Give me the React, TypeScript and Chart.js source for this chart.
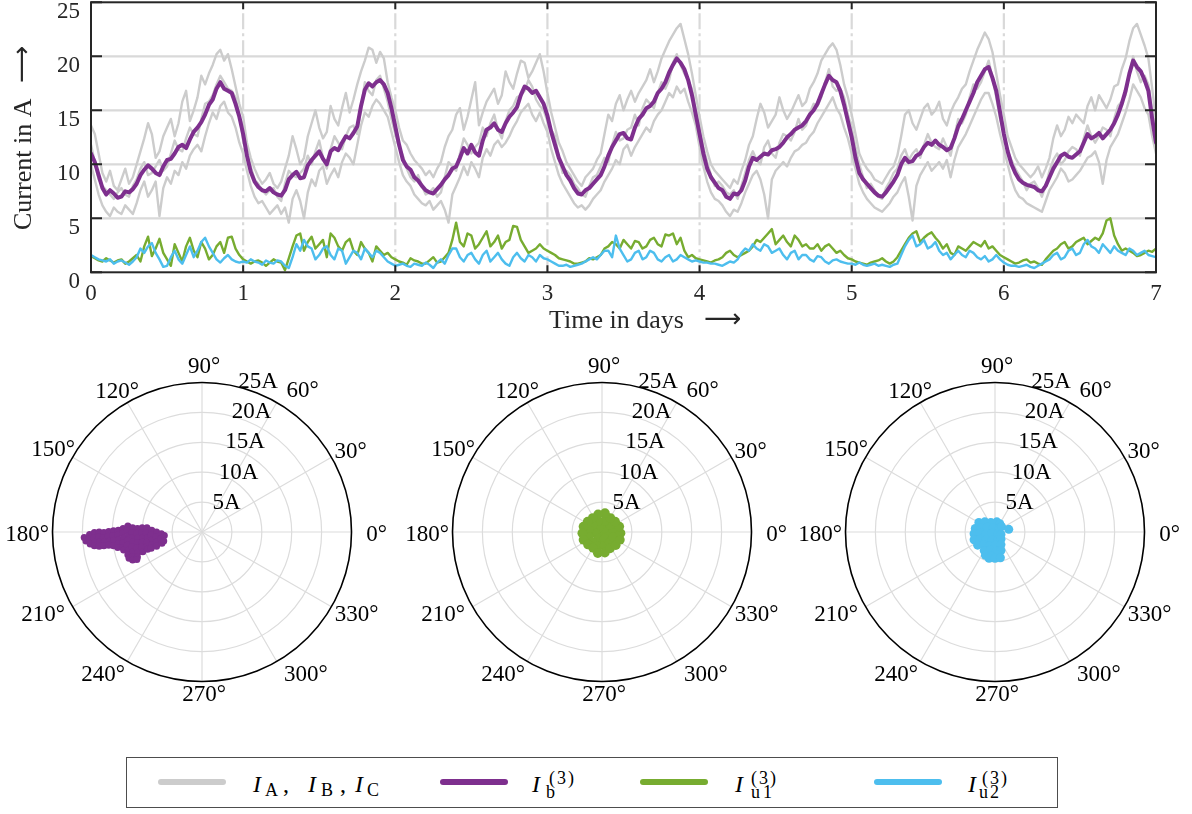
import React, { useEffect, useRef } from "react";
import { Chart, registerables } from "chart.js";

Chart.register(...registerables);

// ---------- style constants ----------
const FONT = '"Liberation Serif", "Times New Roman", Times, serif';
const INK = "#262626";
const GRAY = "#cccccc";
const PURPLE = "#7e2f8e";
const GREEN = "#77ac30";
const BLUE = "#4dbeee";
const GRID = "#d9d9d9";

// ---------- axis / tick data ----------
const STEP_DAYS = 0.025; // sampling step of the series below (days)
const dayTicks = [0, 1, 2, 3, 4, 5, 6, 7];
const currentTicks = [0, 5, 10, 15, 20, 25];
const xAxisTitle = "Time in days";
const yAxisTitle = "Current in A";
const ARROW = "\u27F6";

const polarRingValues = [5, 10, 15, 20, 25];
const polarRingLabels = ["5A", "10A", "15A", "20A", "25A"];
const polarAngles = [0, 30, 60, 90, 120, 150, 180, 210, 240, 270, 300, 330];

// ---------- time series (A), one value per 0.025 day, t = 0 … 7 (one row per day) ----------
const iA = [
  13.6, 12.8, 11.0, 9.2, 8.4, 9.4, 8.0, 7.6, 8.6, 9.6, 8.2, 8.8, 10.0, 11.2, 12.4, 13.8, 12.8, 10.6, 11.2, 12.6, 13.4, 14.2, 12.6, 13.8, 15.8, 16.8, 14.0, 15.0, 16.2, 18.2, 17.4, 18.4, 19.2, 20.2, 20.6, 19.6, 20.2, 18.8, 17.2, 15.6,
  14.4, 12.0, 10.6, 9.6, 8.8, 8.2, 8.6, 9.2, 8.2, 7.8, 8.4, 9.6, 10.8, 12.6, 11.4, 10.0, 10.6, 12.6, 13.8, 15.0, 13.4, 12.4, 13.0, 15.4, 14.2, 13.6, 15.2, 16.6, 14.8, 16.0, 17.4, 18.6, 19.6, 20.8, 20.6, 19.4, 20.4, 19.8, 17.6, 16.2,
  15.0, 13.4, 12.2, 11.8, 11.0, 10.4, 10.0, 9.6, 9.0, 9.4, 8.8, 9.6, 10.2, 11.6, 12.6, 13.2, 14.6, 15.2, 13.2, 14.4, 16.0, 17.6, 13.6, 14.8, 15.8, 16.4, 17.0, 15.6, 16.4, 18.6, 17.6, 17.0, 18.4, 19.6, 19.4, 18.0, 18.6, 19.4, 20.2, 18.6,
  16.6, 14.8, 13.4, 12.0, 11.2, 10.2, 9.6, 9.0, 8.4, 8.0, 8.8, 9.2, 9.6, 10.4, 11.0, 12.8, 14.6, 14.0, 15.6, 16.4, 15.0, 16.0, 16.8, 15.8, 16.6, 17.2, 17.8, 18.8, 17.6, 18.6, 19.8, 20.6, 21.4, 22.0, 22.6, 23.0, 21.6, 20.2, 18.4, 16.4,
  14.4, 12.6, 11.2, 10.0, 9.4, 9.0, 8.6, 8.2, 7.8, 8.6, 8.2, 9.4, 10.4, 11.8, 12.6, 14.2, 15.6, 14.8, 13.4, 14.0, 14.6, 16.2, 15.0, 14.2, 14.8, 15.6, 16.4, 15.4, 15.8, 17.0, 17.6, 18.4, 19.6, 20.2, 20.8, 21.2, 20.6, 19.2, 17.4, 16.2,
  14.6, 12.8, 11.0, 10.2, 9.6, 9.2, 8.6, 8.4, 8.2, 8.8, 9.4, 9.8, 10.8, 12.6, 14.6, 15.0, 13.8, 13.2, 14.2, 15.2, 15.6, 14.6, 15.0, 15.8, 14.2, 13.6, 14.8, 15.6, 16.2, 17.0, 17.4, 18.6, 19.6, 20.6, 21.4, 22.2, 21.6, 20.4, 18.4, 16.4,
  14.6, 12.6, 11.6, 10.6, 10.0, 9.6, 9.2, 8.8, 9.2, 9.8, 8.8, 9.6, 10.6, 12.4, 13.6, 12.6, 13.2, 14.4, 13.8, 14.6, 14.2, 13.8, 15.4, 16.2, 15.0, 16.4, 15.8, 15.2, 16.0, 17.2, 17.4, 18.8, 19.8, 21.4, 22.6, 23.0, 22.0, 21.0, 19.8, 17.0,
  14.0,
];
const iB = [
  11.8, 10.2, 8.6, 8.0, 7.6, 7.2, 6.8, 7.4, 7.8, 7.2, 7.0, 8.0, 8.6, 9.6, 10.2, 9.0, 9.2, 9.8, 10.4, 9.4, 9.8, 11.0, 12.2, 11.4, 11.2, 12.4, 13.4, 12.8, 12.6, 14.2, 15.6, 15.8, 16.4, 17.4, 18.2, 17.6, 17.0, 16.8, 16.2, 14.6,
  12.2, 11.0, 9.8, 8.6, 8.2, 7.6, 7.2, 7.6, 7.8, 7.0, 6.6, 8.2, 9.4, 9.0, 8.8, 9.2, 9.6, 10.8, 10.0, 11.2, 12.2, 10.6, 9.6, 11.4, 12.6, 12.0, 11.4, 12.6, 13.4, 13.6, 12.8, 15.2, 17.6, 16.8, 16.4, 17.8, 18.2, 17.0, 15.8, 14.2,
  12.8, 11.6, 10.8, 9.6, 8.8, 8.4, 9.0, 8.0, 7.2, 7.4, 7.8, 7.0, 7.4, 8.8, 10.2, 9.8, 9.4, 11.0, 12.4, 11.8, 11.0, 11.6, 12.0, 13.4, 12.6, 13.8, 14.6, 13.2, 12.4, 14.0, 15.0, 15.4, 16.2, 16.4, 16.8, 17.8, 17.2, 16.0, 15.4, 15.0,
  14.0, 13.2, 12.6, 10.6, 9.2, 9.4, 9.0, 8.2, 7.8, 7.2, 7.0, 8.0, 8.8, 9.0, 9.8, 10.6, 10.2, 11.8, 13.0, 12.2, 12.4, 13.2, 13.4, 14.6, 13.6, 15.2, 16.0, 15.6, 15.2, 16.6, 17.6, 17.0, 17.8, 19.4, 20.2, 19.2, 18.4, 17.8, 17.0, 15.0,
  13.2, 11.6, 10.2, 9.0, 8.0, 8.4, 8.0, 7.4, 7.2, 7.6, 6.8, 8.0, 9.2, 10.4, 11.2, 10.4, 10.0, 11.6, 12.2, 11.0, 10.6, 12.0, 12.8, 12.6, 12.2, 13.0, 14.2, 13.2, 13.6, 14.8, 15.6, 15.4, 16.2, 17.6, 18.8, 17.2, 16.8, 17.0, 16.2, 14.6,
  13.4, 11.6, 10.0, 8.8, 7.8, 8.2, 7.6, 7.0, 6.8, 7.8, 8.4, 9.2, 9.6, 10.8, 11.4, 10.4, 11.0, 11.4, 10.6, 11.8, 12.8, 12.0, 11.6, 11.4, 12.4, 11.6, 10.8, 12.6, 14.2, 13.8, 14.6, 16.2, 17.4, 17.0, 17.6, 18.6, 19.6, 18.0, 16.2, 14.2,
  13.0, 11.2, 10.4, 9.6, 9.0, 8.4, 7.6, 8.2, 8.4, 7.8, 7.0, 8.0, 9.4, 10.4, 11.0, 10.0, 10.4, 11.2, 11.6, 11.4, 10.8, 12.4, 13.6, 12.6, 12.0, 12.6, 13.4, 13.2, 12.6, 14.2, 15.4, 15.8, 16.4, 18.4, 20.0, 18.6, 17.6, 18.2, 17.4, 15.0,
  12.8,
];
const iC = [
  10.0, 8.6, 7.2, 6.2, 5.6, 5.2, 6.0, 5.6, 5.4, 6.2, 5.8, 5.4, 6.4, 7.6, 8.4, 7.0, 7.6, 8.4, 5.2, 7.8, 8.8, 8.2, 9.4, 9.0, 10.2, 9.6, 10.8, 11.4, 11.8, 11.2, 12.6, 13.8, 14.8, 14.2, 15.4, 15.8, 14.8, 14.4, 13.4, 12.0,
  11.0, 9.4, 8.0, 7.0, 6.4, 6.6, 6.0, 5.4, 5.8, 6.2, 5.4, 6.0, 4.6, 6.8, 7.6, 6.6, 5.0, 7.4, 8.6, 8.0, 9.4, 9.8, 8.2, 9.0, 9.6, 8.8, 10.2, 11.0, 10.6, 10.0, 11.8, 13.6, 14.8, 14.4, 15.4, 16.0, 15.6, 15.0, 14.4, 13.0,
  11.6, 10.2, 9.0, 8.4, 8.0, 7.2, 6.8, 6.4, 6.2, 6.6, 5.8, 6.2, 6.6, 5.8, 4.6, 7.2, 8.0, 8.8, 9.8, 9.0, 10.2, 9.6, 8.8, 10.6, 11.4, 10.8, 11.8, 12.2, 11.6, 12.0, 12.6, 13.4, 14.0, 14.8, 15.2, 15.6, 14.6, 14.0, 14.8, 13.8,
  13.0, 11.4, 10.2, 9.0, 8.2, 7.6, 7.0, 6.4, 6.0, 6.2, 5.8, 6.2, 6.8, 7.2, 7.6, 8.4, 9.0, 9.6, 10.4, 10.0, 11.4, 11.8, 10.8, 11.6, 12.2, 12.8, 13.4, 13.0, 14.0, 14.6, 15.0, 15.8, 16.6, 16.2, 17.2, 16.6, 17.0, 15.8, 14.8, 13.6,
  11.6, 9.8, 8.4, 7.4, 6.8, 6.6, 6.2, 5.6, 5.2, 5.8, 5.6, 6.4, 7.4, 8.2, 9.0, 9.4, 8.6, 7.2, 5.0, 8.6, 9.4, 9.8, 10.2, 9.8, 10.6, 11.2, 11.4, 11.8, 12.0, 12.6, 13.0, 13.8, 14.4, 15.0, 15.6, 16.2, 15.2, 14.6, 13.4, 12.4,
  11.0, 9.6, 8.2, 7.4, 6.8, 6.4, 6.0, 5.8, 5.6, 6.0, 6.4, 7.0, 7.4, 8.2, 8.8, 7.0, 4.8, 8.0, 9.0, 9.6, 10.2, 9.4, 9.8, 10.2, 9.6, 10.4, 8.8, 10.4, 11.6, 12.2, 12.8, 13.6, 14.4, 15.2, 16.0, 16.6, 16.6, 15.6, 14.4, 12.8,
  11.4, 10.0, 8.6, 7.6, 7.0, 6.8, 6.4, 6.2, 6.0, 5.8, 5.6, 6.6, 7.6, 8.2, 8.8, 9.6, 9.2, 8.4, 8.6, 9.0, 9.4, 10.0, 10.6, 10.8, 11.2, 10.2, 8.2, 10.4, 11.6, 12.2, 12.8, 13.8, 14.8, 16.0, 17.4, 16.8, 16.2, 15.2, 14.6, 12.6,
  11.0,
];
const ib3 = [
  11.0, 10.2, 9.0, 7.8, 7.2, 7.6, 7.3, 6.9, 7.0, 7.5, 7.4, 7.7, 8.2, 9.0, 9.5, 9.9, 9.6, 9.2, 9.0, 9.8, 10.4, 10.5, 11.0, 11.6, 11.8, 11.5, 12.3, 13.0, 13.4, 13.9, 14.6, 15.5, 16.0, 17.0, 17.6, 17.0, 16.8, 16.6, 15.6, 14.4,
  12.8, 10.8, 9.3, 8.4, 7.9, 7.6, 7.5, 7.8, 7.4, 7.2, 7.1, 7.6, 8.6, 9.0, 9.3, 8.7, 8.8, 9.9, 10.4, 10.8, 11.2, 10.5, 10.0, 11.2, 11.5, 11.3, 12.0, 12.6, 12.4, 12.9, 13.5, 15.4, 16.9, 17.5, 17.2, 17.6, 17.8, 17.4, 16.6, 15.2,
  13.5, 11.8, 10.4, 9.8, 9.5, 8.8, 8.5, 8.0, 7.6, 7.4, 7.3, 7.7, 8.1, 8.6, 9.0, 9.6, 9.8, 10.6, 11.5, 11.0, 11.8, 11.1, 10.8, 12.2, 13.2, 13.4, 13.8, 13.2, 13.0, 13.8, 14.4, 14.8, 15.3, 16.4, 17.2, 17.0, 16.6, 16.8, 16.2, 15.6,
  14.5, 13.0, 11.8, 10.6, 9.8, 9.0, 8.5, 7.8, 7.3, 7.2, 7.6, 7.8, 8.2, 8.6, 9.0, 9.8, 10.8, 11.6, 12.2, 12.8, 12.9, 12.4, 12.3, 13.4, 14.2, 14.6, 15.2, 15.4, 15.8, 16.6, 17.0, 17.6, 18.5, 19.2, 19.8, 19.4, 18.8, 17.8, 16.4, 14.6,
  12.8, 11.0, 9.6, 8.8, 8.3, 7.8, 7.6, 7.0, 6.8, 7.3, 7.2, 7.6, 8.5, 9.8, 10.6, 10.4, 10.7, 11.0, 10.9, 11.3, 11.4, 11.6, 12.0, 12.5, 12.8, 13.2, 13.4, 13.6, 14.0, 14.6, 15.0, 15.6, 16.5, 17.4, 18.2, 17.8, 17.6, 16.8, 15.5, 14.0,
  12.5, 10.6, 9.2, 8.6, 8.2, 7.8, 7.4, 7.1, 7.0, 7.4, 7.9, 8.4, 9.0, 10.0, 10.6, 10.2, 10.3, 10.8, 11.0, 11.6, 12.0, 11.8, 12.2, 11.8, 11.6, 11.3, 11.5, 12.4, 13.5, 14.2, 15.0, 15.8, 16.6, 17.6, 18.2, 18.8, 19.0, 18.0, 16.8, 14.8,
  12.8, 11.2, 10.0, 9.2, 8.6, 8.3, 8.1, 8.0, 7.9, 7.6, 7.5, 8.0, 8.8, 9.6, 10.2, 10.8, 11.0, 10.7, 10.6, 10.9, 11.2, 12.0, 12.8, 12.4, 12.6, 12.9, 12.4, 12.8, 13.2, 13.8, 14.6, 15.6, 16.8, 18.4, 19.6, 19.0, 18.6, 17.8, 16.8, 14.2,
  12.0,
];
const iu1 = [
  1.5, 1.3, 1.1, 1.0, 1.3, 1.1, 0.9, 1.1, 1.2, 0.8, 1.0, 1.3, 1.6, 1.0, 2.4, 3.3, 1.5, 2.2, 3.1, 1.8, 1.2, 0.6, 2.6, 1.8, 1.0, 2.4, 3.2, 2.0, 1.4, 2.8, 2.2, 1.2, 1.6, 2.4, 2.8, 1.8, 3.2, 3.3, 2.2, 1.6,
  1.2, 1.0, 0.8, 1.0, 1.1, 0.9, 0.6, 0.9, 1.2, 1.0, 0.9, 0.2, 1.3, 2.4, 3.4, 3.6, 2.0, 2.8, 3.3, 2.2, 2.6, 3.0, 1.4, 3.6, 3.2, 2.4, 2.0, 2.8, 3.1, 2.0, 1.6, 2.8, 2.2, 1.8, 1.0, 2.4, 2.0, 1.6, 1.8, 1.4,
  1.2, 1.0, 0.9, 0.7, 1.3, 1.1, 1.0, 0.8, 0.8, 1.1, 1.4, 0.9, 1.0, 1.4, 1.8, 3.0, 4.6, 2.8, 2.4, 3.6, 3.4, 2.2, 2.6, 3.2, 3.8, 2.4, 2.8, 3.4, 2.2, 2.8, 3.0, 4.3, 4.2, 3.0, 2.4, 1.8, 2.0, 2.2, 2.6, 2.2,
  2.0, 1.8, 1.6, 1.3, 1.2, 1.1, 1.0, 0.8, 0.8, 0.9, 1.0, 1.3, 1.2, 1.4, 1.6, 2.2, 2.4, 2.8, 2.6, 2.2, 3.0, 2.6, 2.2, 2.9, 2.8, 2.2, 2.4, 3.0, 3.2, 2.6, 2.4, 3.5, 3.4, 3.6, 2.6, 3.2, 2.0, 1.4, 1.6, 1.3,
  1.2, 1.1, 1.0, 0.9, 1.1, 1.2, 1.4, 1.8, 2.0, 1.6, 1.4, 1.6, 1.8, 2.0, 2.4, 3.0, 2.8, 3.2, 3.6, 4.0, 2.6, 3.0, 3.4, 2.8, 2.4, 3.4, 3.0, 2.4, 2.6, 2.2, 2.2, 2.6, 2.0, 2.4, 2.6, 2.2, 1.8, 2.0, 1.6, 1.3,
  1.2, 1.0, 0.9, 0.8, 0.7, 0.9, 1.0, 1.1, 1.3, 1.0, 0.8, 1.0, 1.4, 2.0, 2.6, 3.2, 3.6, 3.8, 2.8, 3.2, 3.5, 3.7, 3.2, 2.8, 2.2, 2.6, 1.8, 1.6, 2.4, 2.2, 2.0, 2.4, 2.8, 2.6, 2.4, 2.9, 2.2, 2.4, 2.0, 1.6,
  1.4, 1.2, 1.0, 0.8, 0.9, 1.1, 1.2, 0.9, 1.0, 0.8, 0.7, 1.2, 1.6, 2.0, 2.2, 2.6, 2.8, 2.2, 2.4, 2.8, 3.0, 3.2, 2.6, 2.9, 3.2, 3.0, 3.6, 4.8, 5.0, 3.4, 2.6, 2.0, 2.2, 2.0, 1.8, 1.5, 1.6, 1.8, 2.0, 1.9,
  2.2,
];
const iu2 = [
  1.6, 1.4, 1.2, 1.1, 1.0, 1.2, 0.8, 1.0, 1.1, 0.9, 0.7, 1.0, 1.4, 2.2, 1.8, 2.4, 2.7, 1.8, 1.2, 0.5, 0.6, 1.4, 2.0, 1.2, 0.8, 1.6, 2.4, 1.4, 2.0, 2.8, 3.2, 2.4, 1.8, 1.2, 0.9, 1.3, 1.6, 1.2, 1.0, 0.9,
  1.0, 0.9, 1.2, 1.0, 0.9, 0.7, 1.1, 0.9, 0.8, 1.1, 1.0, 0.6, 0.4, 1.4, 2.6, 2.0, 3.0, 2.4, 2.2, 1.2, 1.6, 2.2, 2.4, 1.6, 1.2, 2.2, 2.0, 0.8, 1.4, 2.0, 1.8, 1.2, 2.2, 1.8, 1.4, 2.0, 1.8, 1.4, 1.0, 0.8,
  0.6, 0.7, 0.8, 0.6, 0.5, 0.8, 0.7, 0.6, 0.9, 0.7, 0.4, 0.9, 1.2, 0.8, 1.6, 2.2, 2.2, 1.4, 1.0, 1.6, 1.8, 1.2, 0.8, 1.6, 2.0, 1.0, 1.4, 1.8, 1.2, 0.8, 0.6, 1.4, 1.8, 1.3, 1.0, 1.6, 1.4, 1.0, 1.6, 1.3,
  1.2, 1.0, 0.8, 0.6, 0.6, 0.7, 0.5, 0.6, 0.7, 0.8, 1.0, 1.2, 1.4, 1.2, 1.6, 2.0, 2.0, 1.4, 3.4, 2.2, 1.6, 1.0, 1.2, 1.8, 2.0, 1.2, 1.4, 2.0, 1.8, 1.2, 1.0, 1.4, 1.6, 1.0, 1.2, 1.6, 1.4, 1.2, 1.0, 1.1,
  1.0, 0.9, 0.9, 0.8, 0.8, 0.7, 0.6, 0.8, 1.0, 0.9, 1.2, 1.8, 2.2, 2.0, 2.6, 2.2, 2.0, 2.6, 2.4, 1.8, 2.0, 2.2, 1.6, 1.2, 1.8, 2.0, 1.2, 1.6, 1.6, 1.2, 1.0, 1.5, 1.4, 1.0, 0.8, 1.1, 1.2, 1.0, 0.9, 0.8,
  0.8, 0.7, 0.9, 0.7, 0.6, 0.7, 0.8, 0.6, 0.7, 0.6, 0.5, 0.7, 0.8, 1.6, 2.4, 3.0, 3.4, 2.4, 2.6, 3.0, 2.2, 2.4, 2.8, 2.0, 1.6, 1.8, 1.2, 1.6, 2.0, 1.6, 1.4, 2.0, 1.8, 1.4, 1.2, 1.5, 1.0, 1.2, 1.6, 1.2,
  0.9, 0.7, 0.6, 0.6, 0.5, 0.6, 0.7, 0.5, 0.4, 0.6, 0.8, 1.0, 1.2, 1.6, 1.8, 1.2, 1.4, 2.0, 2.2, 1.6, 1.8, 2.6, 3.0, 2.4, 2.2, 1.8, 2.6, 2.2, 1.8, 2.4, 2.0, 1.8, 1.6, 2.2, 2.0, 1.6, 1.8, 2.0, 1.6, 1.5,
  1.4,
];

// ---------- polar clouds: real / imaginary parts (A) ----------
const ib3Re = [
  -19.7, -19.4,
  -18.8, -18.9, -18.7,
  -18.0, -18.1, -17.9, -18.0,
  -17.2, -17.3, -17.1, -17.2,
  -16.4, -16.5, -16.3, -16.4,
  -15.6, -15.7, -15.5, -15.6,
  -14.8, -14.9, -14.7, -14.8,
  -14.0, -14.1, -13.9, -14.0, -14.1,
  -13.2, -13.3, -13.1, -13.2, -13.3, -13.1,
  -12.4, -12.5, -12.3, -12.4, -12.5, -12.3, -12.4, -12.2,
  -11.6, -11.7, -11.5, -11.6, -11.7, -11.5, -11.6, -11.6,
  -10.8, -10.9, -10.7, -10.8, -10.9, -10.7, -10.8, -10.9,
  -10.0, -10.1, -9.9, -10.0, -10.1, -9.9,
  -9.2, -9.3, -9.1, -9.2, -9.3, -9.1,
  -8.4, -8.5, -8.3, -8.4, -8.5,
  -7.6, -7.7, -7.5, -7.6,
  -6.8, -6.9, -6.7,
  -6.3, -6.4,
];
const ib3Im = [
  -0.9, -1.5,
  -0.4, -1.2, -2.0,
  -0.1, -0.9, -1.7, -2.3,
  0.0, -0.8, -1.6, -2.4,
  -0.1, -0.9, -1.6, -2.3,
  0.1, -0.7, -1.5, -2.2,
  0.2, -0.6, -1.4, -2.3,
  0.3, -0.5, -1.3, -2.0, -2.6,
  0.6, -0.2, -1.0, -1.8, -2.6, -3.0,
  1.0, 0.2, -0.6, -1.4, -2.2, -3.0, -3.8, -4.4,
  0.7, -0.1, -0.9, -1.7, -2.5, -3.3, -4.1, -4.7,
  0.6, -0.2, -1.0, -1.8, -2.6, -3.4, -4.2, -4.6,
  0.7, -0.1, -0.9, -1.7, -2.5, -3.3,
  0.7, -0.1, -0.9, -1.7, -2.5, -2.9,
  0.3, -0.5, -1.3, -2.1, -2.7,
  0.0, -0.8, -1.6, -2.4,
  -0.3, -1.1, -1.9,
  -0.6, -1.5,
];
const iu1Re = [
  -0.1,
  0.9, 0.4, -0.6, -1.1, -0.6, 0.4,
  1.9, 1.3, 0.4, -0.7, -1.6, -2.2, -2.2, -1.6, -0.7, 0.4, 1.3, 1.9,
  3.1, 2.9, 2.2, 1.4, 0.5, -0.65, -1.55, -2.4, -3.1, -3.3, -3.1, -2.35, -1.5, -0.7, 0.48, 1.35, 2.3, 3.0,
];
const iu1Im = [
  -0.2,
  -0.2, 0.7, 0.7, -0.2, -1.1, -1.1,
  0.3, 1.2, 1.8, 1.8, 1.2, 0.3, -0.8, -1.7, -2.3, -2.3, -1.7, -0.8,
  -0.2, 0.9, 1.75, 2.35, 3.15, 2.95, 2.35, 1.75, 0.9, -0.2, -1.3, -2.1, -2.65, -3.55, -3.45, -2.75, -2.2, -1.3,
];
const iu2Re = [
  -2.7, -1.7, -0.7, 0.3, 0.8,
  -3.3, -2.3, -1.3, -0.3, 0.7, 1.1,
  -3.5, -2.5, -1.5, -0.5, 0.5, 1.0,
  -3.5, -2.5, -1.5, -0.5, 0.5, 1.0,
  -2.9, -1.9, -0.9, 0.1, 1.0,
  -1.8, -0.8, 0.2, 1.0,
  -1.6, -0.6, 0.4,
  -1.0, 0.0, 0.9,
  2.3,
];
const iu2Im = [
  1.6, 1.7, 1.6, 1.7, 1.4,
  0.6, 0.7, 0.8, 0.7, 0.6, 0.9,
  -0.3, -0.2, -0.3, -0.2, -0.3, -0.4,
  -1.3, -1.2, -1.3, -1.4, -1.3, -1.2,
  -2.2, -2.1, -2.3, -2.2, -2.1,
  -3.1, -3.0, -3.2, -3.1,
  -3.9, -4.0, -3.9,
  -4.4, -4.4, -4.3,
  0.45,
];

// ---------- layout constants (pixels) ----------
const TOP_H = 340;
const POLAR_SIZE = 400;
const POLAR_PAD = 50.5;
const POLAR_CY = 531.7;
const POLAR_CX = [202.3, 601.7, 995];
// offsets of the angle labels from the polar centre (px, y down)
const ANGLE_LABEL_OFFSET: Record<number, [number, number]> = {
  0: [174.7, 1.5],
  30: [148.5, -81.5],
  60: [100.5, -142.5],
  90: [2, -166.5],
  120: [-85, -141.5],
  150: [-149, -83],
  180: [-174.8, 1.5],
  210: [-159, 81.7],
  240: [-99, 141.8],
  270: [2, 161.5],
  300: [103.8, 141.8],
  330: [154.7, 81.7],
};

function toPoints(arr: number[]) {
  return arr.map((v, i) => ({ x: +(i * STEP_DAYS).toFixed(3), y: v }));
}

function TimeChart() {
  const ref = useRef<HTMLCanvasElement>(null);
  useEffect(() => {
    const framePlugin = {
      id: "frame",
      beforeDatasetsDraw(chart: any) {
        const { ctx, chartArea: a, scales } = chart;
        const xs = scales.x;
        const ys = scales.y;
        ctx.save();
        ctx.strokeStyle = GRID;
        ctx.lineWidth = 2.2;
        for (const v of currentTicks) {
          if (v === currentTicks[0] || v === currentTicks[currentTicks.length - 1]) continue;
          const y = ys.getPixelForValue(v);
          ctx.beginPath();
          ctx.moveTo(a.left, y);
          ctx.lineTo(a.right, y);
          ctx.stroke();
        }
        ctx.setLineDash([16, 4, 3, 4]);
        for (const t of dayTicks) {
          if (t === dayTicks[0] || t === dayTicks[dayTicks.length - 1]) continue;
          const x = xs.getPixelForValue(t);
          ctx.beginPath();
          ctx.moveTo(x, a.bottom);
          ctx.lineTo(x, a.top);
          ctx.stroke();
        }
        ctx.restore();
      },
      afterDatasetsDraw(chart: any) {
        const { ctx, chartArea: a, scales } = chart;
        const xs = scales.x;
        const ys = scales.y;
        ctx.save();
        ctx.strokeStyle = INK;
        ctx.lineWidth = 2;
        ctx.strokeRect(a.left, a.top, a.right - a.left, a.bottom - a.top);
        ctx.beginPath();
        for (const v of currentTicks) {
          const y = ys.getPixelForValue(v);
          ctx.moveTo(a.left, y);
          ctx.lineTo(a.left + 11, y);
          ctx.moveTo(a.right - 11, y);
          ctx.lineTo(a.right, y);
        }
        for (const t of dayTicks) {
          const x = xs.getPixelForValue(t);
          ctx.moveTo(x, a.bottom);
          ctx.lineTo(x, a.bottom - 7);
          ctx.moveTo(x, a.top);
          ctx.lineTo(x, a.top + 7);
        }
        ctx.stroke();
        ctx.restore();
      },
      afterDraw(chart: any) {
        const { ctx } = chart;
        ctx.save();
        ctx.fillStyle = INK;
        ctx.textAlign = "left";
        ctx.textBaseline = "alphabetic";
        ctx.font = `26px ${FONT}`;
        ctx.fillText(xAxisTitle, 549, 328);
        ctx.font = `26px "DejaVu Sans", ${FONT}`;
        ctx.fillText(ARROW, 704, 327);
        ctx.translate(31, 230);
        ctx.rotate(-Math.PI / 2);
        ctx.font = `26px ${FONT}`;
        ctx.fillText(yAxisTitle, 0, 0);
        ctx.font = `26px "DejaVu Sans", ${FONT}`;
        ctx.fillText(ARROW, 147, -1);
        ctx.restore();
      },
    };

    const line = (label: string, data: number[], color: string, width: number, order: number) => ({
      label,
      data: toPoints(data),
      borderColor: color,
      backgroundColor: color,
      borderWidth: width,
      pointRadius: 0,
      fill: false,
      order,
    });

    const chart = new Chart(ref.current as HTMLCanvasElement, {
      type: "line",
      data: {
        datasets: [
          line("I_u2^(3)", iu2, BLUE, 2.4, 0),
          line("I_u1^(3)", iu1, GREEN, 2.4, 1),
          line("I_b^(3)", ib3, PURPLE, 4, 2),
          line("I_A", iA, GRAY, 2.4, 3),
          line("I_B", iB, GRAY, 2.4, 4),
          line("I_C", iC, GRAY, 2.4, 5),
        ],
      },
      options: {
        responsive: false,
        animation: false,
        events: [],
        layout: { padding: { left: 0, right: 36, top: 2.3, bottom: 0 } },
        elements: { line: { tension: 0, borderJoinStyle: "round", borderCapStyle: "round" } },
        plugins: { legend: { display: false }, tooltip: { enabled: false } },
        scales: {
          x: {
            type: "linear",
            min: 0,
            max: 7,
            grid: { display: false, drawTicks: false },
            border: { display: false },
            ticks: {
              stepSize: 1,
              autoSkip: false,
              maxRotation: 0,
              padding: 8,
              color: INK,
              font: { family: FONT, size: 23 },
            },
            afterFit(s: any) {
              s.height = TOP_H - 272.3;
              s.paddingLeft = 0;
              s.paddingRight = 0;
            },
          },
          y: {
            type: "linear",
            min: 0,
            max: 25,
            grid: { display: false, drawTicks: false },
            border: { display: false },
            ticks: {
              stepSize: 5,
              padding: 11,
              labelOffset: (c: any) => (c.tick && c.tick.value === 0 ? 3 : 10),
              color: INK,
              font: { family: FONT, size: 23 },
            },
            afterFit(s: any) {
              s.width = 91;
              s.paddingTop = 0;
              s.paddingBottom = 0;
            },
          },
        },
      },
      plugins: [framePlugin],
    } as any);
    return () => chart.destroy();
  }, []);
  return (
    <canvas
      ref={ref}
      width={1192}
      height={TOP_H}
      style={{ position: "absolute", left: 0, top: 0, width: 1192, height: TOP_H }}
    />
  );
}

function PolarCloud(props: { re: number[]; im: number[]; color: string; radius: number; cx: number; cy: number; name: string }) {
  const ref = useRef<HTMLCanvasElement>(null);
  const { re, im, color, radius, cx, cy, name } = props;
  useEffect(() => {
    const gridPlugin = {
      id: "polarGrid",
      beforeDatasetsDraw(chart: any) {
        const { ctx, scales } = chart;
        const xs = scales.x;
        const ys = scales.y;
        const ox = xs.getPixelForValue(0);
        const oy = ys.getPixelForValue(0);
        const rpx = (v: number) => xs.getPixelForValue(v) - ox;
        const R = rpx(polarRingValues[polarRingValues.length - 1]);
        ctx.save();
        ctx.strokeStyle = "#dcdcdc";
        ctx.lineWidth = 1.2;
        for (const a of polarAngles) {
          const t = (a * Math.PI) / 180;
          ctx.beginPath();
          ctx.moveTo(ox, oy);
          ctx.lineTo(ox + R * Math.cos(t), oy - R * Math.sin(t));
          ctx.stroke();
        }
        for (const v of polarRingValues.slice(0, -1)) {
          ctx.beginPath();
          ctx.arc(ox, oy, rpx(v), 0, Math.PI * 2);
          ctx.stroke();
        }
        ctx.strokeStyle = "#000";
        ctx.lineWidth = 1.6;
        ctx.beginPath();
        ctx.arc(ox, oy, R, 0, Math.PI * 2);
        ctx.stroke();

        ctx.fillStyle = "#000";
        ctx.font = `23px ${FONT}`;
        ctx.textAlign = "center";
        ctx.textBaseline = "middle";
        for (const a of polarAngles) {
          const [dx, dy] = ANGLE_LABEL_OFFSET[a];
          ctx.fillText(`${a}\u00B0`, ox + dx, oy + dy + 1);
        }
        ctx.textAlign = "left";
        polarRingValues.forEach((v, i) => {
          const r = rpx(v);
          ctx.fillText(polarRingLabels[i], ox + 4 + r * 0.215, oy - r * 1.01 + 1);
        });
        ctx.restore();
      },
    };
    const chart = new Chart(ref.current as HTMLCanvasElement, {
      type: "scatter",
      data: {
        datasets: [
          {
            label: name,
            data: re.map((x, i) => ({ x, y: im[i] })),
            backgroundColor: color,
            borderColor: color,
            borderWidth: 0,
            pointRadius: radius,
            pointHoverRadius: radius,
          },
        ],
      },
      options: {
        responsive: false,
        animation: false,
        events: [],
        layout: { padding: POLAR_PAD },
        plugins: { legend: { display: false }, tooltip: { enabled: false } },
        scales: {
          x: { type: "linear", min: -25, max: 25, display: false },
          y: { type: "linear", min: -25, max: 25, display: false },
        },
      },
      plugins: [gridPlugin],
    } as any);
    return () => chart.destroy();
  }, []);
  return (
    <canvas
      ref={ref}
      width={POLAR_SIZE}
      height={POLAR_SIZE}
      style={{
        position: "absolute",
        left: cx - POLAR_SIZE / 2,
        top: cy - POLAR_SIZE / 2,
        width: POLAR_SIZE,
        height: POLAR_SIZE,
      }}
    />
  );
}

const textBase: React.CSSProperties = {
  position: "absolute",
  top: 772,
  fontFamily: FONT,
  fontSize: 24,
  lineHeight: "24px",
  color: "#000",
  whiteSpace: "nowrap",
};
const subStyle = (dy: number, ml: number, ls = 0): React.CSSProperties => ({
  fontSize: 18,
  position: "relative",
  top: dy,
  marginLeft: ml,
  letterSpacing: ls,
});

function Swatch({ left, color }: { left: number; color: string }) {
  return (
    <div
      style={{
        position: "absolute",
        left,
        top: 779,
        width: 68,
        height: 6,
        borderRadius: 3,
        background: color,
      }}
    />
  );
}

function SubSup({ sub, ml, supLeft, ls }: { sub: string; ml: number; supLeft: number; ls: number }) {
  return (
    <span style={{ position: "relative", display: "inline-block", marginLeft: ml }}>
      <span style={subStyle(6, 0, ls)}>{sub}</span>
      <span style={{ fontSize: 18, position: "absolute", left: supLeft, top: -6, letterSpacing: 2 }}>(3)</span>
    </span>
  );
}

function Legend() {
  const I = <span style={{ fontStyle: "italic" }}>I</span>;
  return (
    <>
      <div
        style={{
          position: "absolute",
          left: 126,
          top: 757,
          width: 932,
          height: 51,
          boxSizing: "border-box",
          border: "1.5px solid #4d4d4d",
          background: "#fff",
        }}
      />
      <Swatch left={158} color={GRAY} />
      <span style={{ ...textBase, left: 253 }}>
        {I}
        <span style={subStyle(4, 4)}>A</span>
        <span style={{ marginLeft: 5 }}>,</span>
      </span>
      <span style={{ ...textBase, left: 308 }}>
        {I}
        <span style={subStyle(4, 5)}>B</span>
        <span style={{ marginLeft: 7 }}>,</span>
      </span>
      <span style={{ ...textBase, left: 355 }}>
        {I}
        <span style={subStyle(4, 4)}>C</span>
      </span>
      <Swatch left={440} color={PURPLE} />
      <span style={{ ...textBase, left: 532 }}>
        {I}
        <SubSup sub="b" ml={6} supLeft={3} ls={0} />
      </span>
      <Swatch left={640} color={GREEN} />
      <span style={{ ...textBase, left: 735 }}>
        {I}
        <SubSup sub="u1" ml={8} supLeft={0} ls={3} />
      </span>
      <Swatch left={874} color={BLUE} />
      <span style={{ ...textBase, left: 968 }}>
        {I}
        <SubSup sub="u2" ml={3} supLeft={3} ls={2} />
      </span>
    </>
  );
}

export default function App() {
  return (
    <div
      style={{
        position: "fixed",
        left: 0,
        top: 0,
        width: 1192,
        height: 814,
        overflow: "hidden",
        background: "#fff",
      }}
    >
      <TimeChart />
      <PolarCloud re={ib3Re} im={ib3Im} color={PURPLE} radius={3.5} cx={POLAR_CX[0]} cy={POLAR_CY} name="I_b^(3)" />
      <PolarCloud re={iu1Re} im={iu1Im} color={GREEN} radius={4.8} cx={POLAR_CX[1]} cy={POLAR_CY} name="I_u1^(3)" />
      <PolarCloud re={iu2Re} im={iu2Im} color={BLUE} radius={4.5} cx={POLAR_CX[2]} cy={POLAR_CY} name="I_u2^(3)" />
      <Legend />
    </div>
  );
}
